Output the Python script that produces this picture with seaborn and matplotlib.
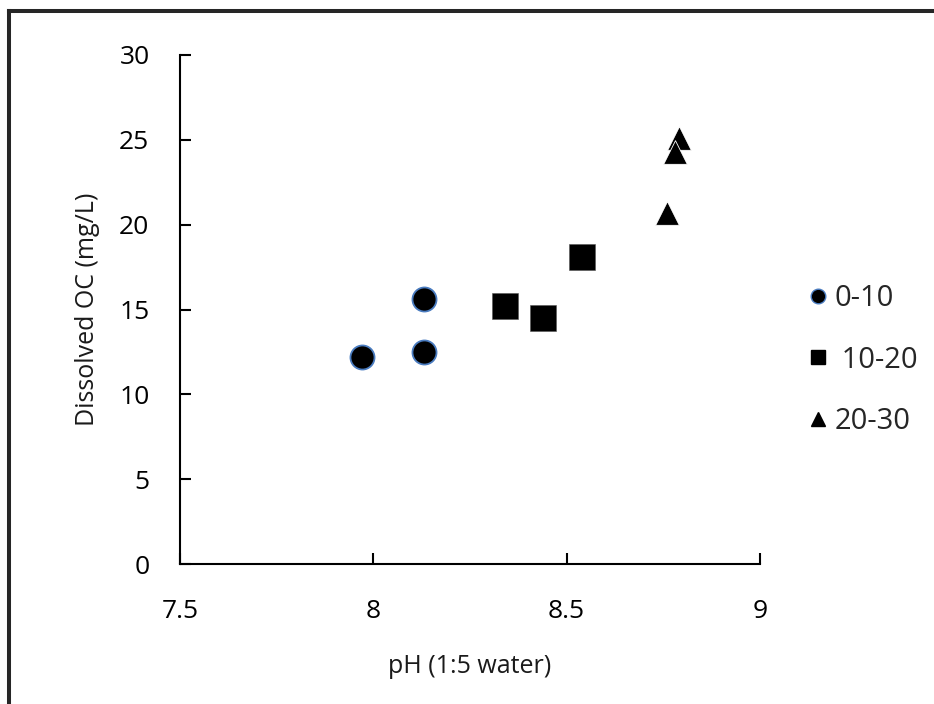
import matplotlib
matplotlib.use("Agg")
import matplotlib.pyplot as plt
from matplotlib.lines import Line2D
import seaborn as sns
import pandas as pd

# ---- data ----
depths = ["0-10", "10-20", "20-30"]
legend_labels = ["0-10", " 10-20", "20-30"]
ph_0_10 = [7.97, 8.13, 8.13]
doc_0_10 = [12.2, 15.6, 12.5]
ph_10_20 = [8.34, 8.44, 8.54]
doc_10_20 = [15.2, 14.5, 18.1]
ph_20_30 = [8.79, 8.78, 8.76]
doc_20_30 = [25.1, 24.3, 20.7]
x_ticks = [7.5, 8, 8.5, 9]
x_tick_labels = ["7.5", "8", "8.5", "9"]
y_ticks = [0, 5, 10, 15, 20, 25, 30]

df = pd.DataFrame({
    "pH": ph_0_10 + ph_10_20 + ph_20_30,
    "DOC": doc_0_10 + doc_10_20 + doc_20_30,
    "depth": [depths[0]] * 3 + [depths[1]] * 3 + [depths[2]] * 3,
})

sns.set_theme(style="white")
plt.rcParams["font.family"] = ["Open Sans", "DejaVu Sans"]

fig = plt.figure(figsize=(9.34, 7.04), dpi=100)
ax = fig.add_axes([180 / 934, 1 - 564 / 704, 580 / 934, 509 / 704])

styles = {
    "0-10": dict(marker="o", s=300, color="black", edgecolor="#4a7cc0", linewidth=1.3),
    "10-20": dict(marker="s", s=340, color="black", edgecolor="#555555", linewidth=0.4),
    "20-30": dict(marker="^", s=290, color="black", edgecolor="white", linewidth=0.6),
}
for d in depths:
    sub = df[df["depth"] == d]
    sns.scatterplot(data=sub, x="pH", y="DOC", ax=ax, legend=False, zorder=3, **styles[d])

ax.set_xlim(7.5, 9)
ax.set_ylim(0, 30)
ax.set_xticks(x_ticks)
ax.set_xticklabels(x_tick_labels)
ax.set_yticks(y_ticks)
for s in ["top", "right"]:
    ax.spines[s].set_visible(False)
for s in ["left", "bottom"]:
    ax.spines[s].set_color("black")
    ax.spines[s].set_linewidth(1.5)
ax.tick_params(axis="both", which="major", bottom=True, left=True, direction="in",
               length=8, width=1.5, color="black", labelsize=19, labelcolor="black")
ax.tick_params(axis="x", pad=25)
ax.tick_params(axis="y", pad=22)
ax.set_xlabel("pH (1:5 water)", fontsize=18, color="#1a1a1a", labelpad=22)
ax.set_ylabel("Dissolved OC (mg/L)", fontsize=18, color="#1a1a1a", labelpad=14)

handles = [
    Line2D([], [], linestyle="none", marker="o", markersize=10.5, markerfacecolor="black",
           markeredgecolor="#4a7cc0", markeredgewidth=1),
    Line2D([], [], linestyle="none", marker="s", markersize=10.5, markerfacecolor="black",
           markeredgecolor="black"),
    Line2D([], [], linestyle="none", marker="^", markersize=10, markerfacecolor="black",
           markeredgecolor="black"),
]
fig.legend(handles, legend_labels, loc="center left", bbox_to_anchor=(792 / 934, 1 - 360 / 704),
           frameon=False, fontsize=21, handletextpad=0.05, labelspacing=1.12,
           handlelength=1.0, borderaxespad=0)

# outer frame (top and left edges visible in the reference)
fig.add_artist(Line2D([9 / 934, 1.0], [1 - 10.5 / 704, 1 - 10.5 / 704], transform=fig.transFigure,
                      color="#262626", linewidth=2.9, solid_capstyle="projecting"))
fig.add_artist(Line2D([9 / 934, 9 / 934], [0, 1 - 10.5 / 704], transform=fig.transFigure,
                      color="#262626", linewidth=2.9, solid_capstyle="projecting"))

fig.savefig("out.png", dpi=100, facecolor="white")
